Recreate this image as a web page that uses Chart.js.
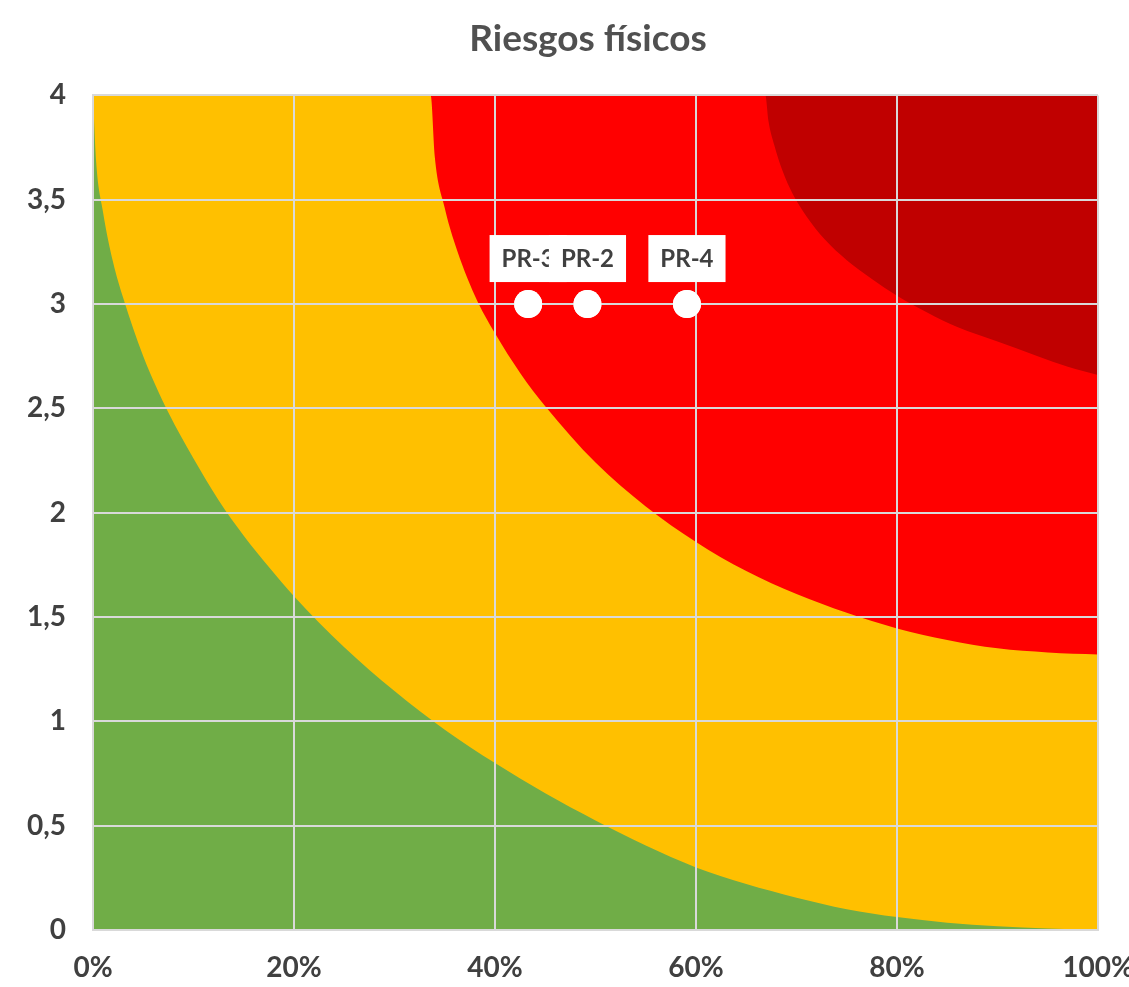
<!DOCTYPE html>
<html>
<head>
<meta charset="utf-8">
<script src="https://cdn.jsdelivr.net/npm/chart.js@4"></script>
<style>
  html, body { margin: 0; padding: 0; background: #ffffff; }
  canvas { display: block; }
</style>
</head>
<body>
<canvas id="c" width="1129" height="987"></canvas>
<script>
// ---- data ----
const xTicks = [0, 20, 40, 60, 80, 100];            // % axis
const yTicks = [0, 0.5, 1, 1.5, 2, 2.5, 3, 3.5, 4];

// upper edge of the green zone
const greenX = [0, 0.3, 1, 2, 3, 5, 7.5, 10, 12.5, 15, 17.5, 20, 25, 30, 35, 40, 45, 50, 55, 60, 65, 70, 75, 80, 85, 90, 95, 100];
const greenY = [4, 3.69, 3.44, 3.2, 3.03, 2.75, 2.48, 2.26, 2.06, 1.89, 1.74, 1.6, 1.355, 1.145, 0.96, 0.8, 0.655, 0.525, 0.405, 0.3, 0.22, 0.155, 0.1, 0.062, 0.035, 0.018, 0.007, 0];

// upper edge of the yellow zone
const yellowX = [0, 33.6, 34, 35, 36, 38, 40, 42.5, 45, 50, 55, 60, 65, 70, 75, 80, 85, 90, 95, 100];
const yellowY = [4, 4, 3.71, 3.46, 3.29, 3.04, 2.86, 2.67, 2.51, 2.24, 2.03, 1.86, 1.72, 1.61, 1.52, 1.445, 1.39, 1.35, 1.33, 1.32];

// upper edge of the red zone
const redX = [0, 66.9, 67.2, 67.8, 68.6, 69.6, 71, 72.8, 75, 77.5, 80, 83, 86, 90, 94, 97, 100];
const redY = [4, 4, 3.88, 3.76, 3.64, 3.53, 3.42, 3.31, 3.21, 3.12, 3.04, 2.96, 2.89, 2.82, 2.75, 2.7, 2.66];

// dark red zone (rest of the plot)
const darkRedX = [0, 100];
const darkRedY = [4, 4];

// risk points
const riskLabels = ['PR-3', 'PR-2', 'PR-4'];
const riskX = [43.3, 49.2, 59.1];
const riskY = [3, 3, 3];

// ---- helpers ----
const pts = (xs, ys) => xs.map((x, i) => ({ x: x, y: ys[i] }));
const GRID = '#d9d9d9';
const TXT = '#404040';
const FONT = 'Lato, "Open Sans", sans-serif';

const areaDs = (label, xs, ys, color) => ({
  type: 'line',
  label: label,
  data: pts(xs, ys),
  borderWidth: 0,
  borderColor: color,
  backgroundColor: color,
  pointRadius: 0,
  fill: 'origin',
  cubicInterpolationMode: 'monotone'
});

// centre the title over the plot area
const titleOverPlot = {
  id: 'titleOverPlot',
  afterLayout(chart) {
    if (chart.titleBlock) {
      chart.titleBlock.left = 78;
      chart.titleBlock.right = chart.chartArea.right;
    }
  }
};

// draws the points dataset again above the grid, plus its labels
const topLayer = {
  id: 'topLayer',
  afterDraw(chart) {
    const meta = chart.getDatasetMeta(0);
    const ctx = chart.ctx;
    ctx.save();
    meta.controller.draw();
    ctx.font = 'bold 24px ' + FONT;
    ctx.textAlign = 'center';
    ctx.textBaseline = 'middle';
    meta.data.forEach((el, i) => {
      const t = riskLabels[i];
      const w = ctx.measureText(t).width + 24;
      const h = 47;
      const cy = el.y - 14 - 8 - h / 2;
      ctx.fillStyle = '#ffffff';
      ctx.fillRect(el.x - w / 2, cy - h / 2, w, h);
      ctx.fillStyle = TXT;
      ctx.fillText(t, el.x, cy + 1);
    });
    ctx.restore();
  }
};

new Chart(document.getElementById('c'), {
  type: 'scatter',
  data: {
    datasets: [
      {
        type: 'scatter',
        label: 'Riesgos',
        data: pts(riskX, riskY),
        pointRadius: 14,
        pointHoverRadius: 14,
        pointBackgroundColor: '#ffffff',
        pointBorderColor: '#ffffff',
        pointBorderWidth: 0
      },
      areaDs('Bajo', greenX, greenY, '#70AD47'),
      areaDs('Medio', yellowX, yellowY, '#FFC000'),
      areaDs('Alto', redX, redY, '#FF0000'),
      areaDs('Muy alto', darkRedX, darkRedY, '#C00000')
    ]
  },
  options: {
    responsive: false,
    animation: false,
    devicePixelRatio: 1,
    layout: { padding: { left: 0, right: 31, top: 0, bottom: 0 } },
    plugins: {
      legend: { display: false },
      tooltip: { enabled: false },
      title: {
        display: true,
        text: 'Riesgos físicos',
        color: '#505050',
        font: { family: FONT, size: 37, weight: 'bold' },
        padding: { top: 17, bottom: 34 }
      }
    },
    scales: {
      x: {
        type: 'linear',
        min: 0,
        max: 100,
        afterBuildTicks: s => { s.ticks = xTicks.map(v => ({ value: v })); },
        afterFit: s => { s.height = 57; s.paddingLeft = 0; s.paddingRight = 0; },
        grid: { color: GRID, lineWidth: 2, drawTicks: false, z: 1 },
        border: { display: true, color: GRID, width: 2, z: 1 },
        ticks: {
          padding: 21,
          color: TXT,
          font: { family: FONT, size: 28, weight: 'bold' },
          callback: v => v + '%'
        }
      },
      y: {
        type: 'linear',
        min: 0,
        max: 4,
        afterBuildTicks: s => { s.ticks = yTicks.map(v => ({ value: v })); },
        afterFit: s => { s.width = 93; },
        grid: { color: GRID, lineWidth: 2, drawTicks: false, z: 1 },
        border: { display: true, color: GRID, width: 2, z: 1 },
        ticks: {
          padding: 27,
          color: TXT,
          font: { family: FONT, size: 28, weight: 'bold' },
          callback: v => String(v).replace('.', ',')
        }
      }
    }
  },
  plugins: [titleOverPlot, topLayer]
});
</script>
</body>
</html>
